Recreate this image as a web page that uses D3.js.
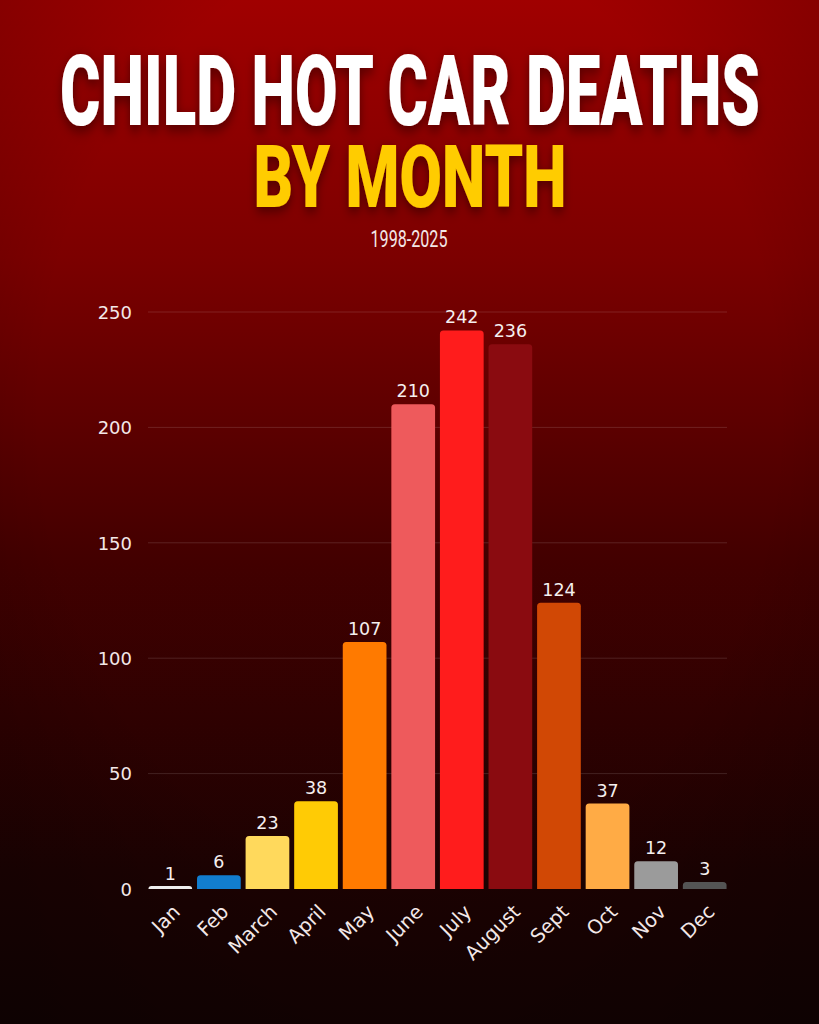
<!DOCTYPE html>
<html><head><meta charset="utf-8">
<script src="https://cdn.jsdelivr.net/npm/d3@7"></script>
<style>
html,body{margin:0;padding:0;background:#000;}
svg{display:block;}
</style></head>
<body>
<svg id="chart" width="819" height="1024"></svg>
<script>
const months = ["Jan","Feb","March","April","May","June","July","August","Sept","Oct","Nov","Dec"];
const deaths = [1,6,23,38,107,210,242,236,124,37,12,3];
const barColors = ["#eeeeee","#127dcf","#ffd95c","#ffcb05","#ff7a00","#ee5a5c","#ff1c1c","#8a0b10","#d14805","#ffab45","#9b9b9b","#545454"];
const yTicks = [0,50,100,150,200,250];
const titleLine1 = "CHILD HOT CAR DEATHS";
const titleLine2 = "BY MONTH";
const subtitle = "1998-2025";

const W = 819, H = 1024;
const svg = d3.select("#chart");
const defs = svg.append("defs");
const bg = defs.append("linearGradient").attr("id","bg").attr("x1",0).attr("y1",0).attr("x2",0).attr("y2",1);
bg.append("stop").attr("offset","0%").attr("stop-color","#a00000");
bg.append("stop").attr("offset","25%").attr("stop-color","#7c0000");
bg.append("stop").attr("offset","55%").attr("stop-color","#420000");
bg.append("stop").attr("offset","85%").attr("stop-color","#1c0202");
bg.append("stop").attr("offset","100%").attr("stop-color","#130202");
const vig = defs.append("radialGradient").attr("id","vig").attr("cx","50%").attr("cy","40%").attr("r","75%");
vig.append("stop").attr("offset","60%").attr("stop-color","#000").attr("stop-opacity",0);
vig.append("stop").attr("offset","100%").attr("stop-color","#000").attr("stop-opacity",0.25);
const sh = defs.append("filter").attr("id","shadow").attr("x","-10%").attr("y","-20%").attr("width","120%").attr("height","150%");
sh.append("feDropShadow").attr("dx",0).attr("dy",3).attr("stdDeviation",4).attr("flood-color","#000").attr("flood-opacity",0.45);

svg.append("rect").attr("width",W).attr("height",H).attr("fill","url(#bg)");
svg.append("rect").attr("width",W).attr("height",H).attr("fill","url(#vig)");

// Titles: condensed look via vertical stretch of a size fitted to the target width
const titleFont = "'Roboto','Liberation Sans',sans-serif";
function fittedTitle(str, cx, baseline, width, capH, weight, color, useShadow){
  const t = svg.append("text").text(str)
    .attr("font-family",titleFont).attr("font-weight",weight).attr("font-size",100)
    .attr("text-anchor","middle").attr("fill",color);
  const w = t.node().getComputedTextLength();
  const fs = 100*width/w;
  const sy = capH/(0.711*fs);
  t.attr("font-size",fs).attr("x",0).attr("y",0)
   .attr("transform",`translate(${cx},${baseline}) scale(1,${sy})`);
  if(useShadow) t.attr("filter","url(#shadow)");
  return t;
}
fittedTitle(titleLine1, 410, 125, 700, 70, 900, "#ffffff", true);
fittedTitle(titleLine2, 410, 207, 313, 62, 900, "#ffcc00", true);
fittedTitle(subtitle, 409, 247, 77, 17, 400, "#f2e6e6", false);

// Scales
const x = d3.scaleBand().domain(months).range([146,729]).paddingInner(0.1).paddingOuter(0.05);
const y = d3.scaleLinear().domain([0,250]).range([889,312]);

const labelFont = "'DejaVu Sans','Open Sans',sans-serif";

// gridlines
svg.append("g").selectAll("line").data(yTicks.filter(d=>d>0)).join("line")
  .attr("x1",148).attr("x2",727).attr("y1",d=>y(d)).attr("y2",d=>y(d))
  .attr("stroke","#ffffff").attr("stroke-opacity",0.13).attr("stroke-width",1);

// y axis
const yAxis = d3.axisLeft(y).tickValues(yTicks).tickSize(0).tickPadding(0);
const yg = svg.append("g").attr("transform","translate(132,0)").call(yAxis);
yg.select(".domain").remove();
yg.selectAll("text").attr("font-family",labelFont).attr("font-size",18).attr("fill","#f3e8e8").attr("dy","0.35em");

// bars with rounded top
function barPath(d,i){
  const x0 = x(months[i]), w = x.bandwidth(), y0 = y(d), yb = y(0);
  const r = Math.min(3.5, (yb-y0)/1, w/2);
  return `M${x0},${yb}V${y0+r}Q${x0},${y0} ${x0+r},${y0}H${x0+w-r}Q${x0+w},${y0} ${x0+w},${y0+r}V${yb}Z`;
}
svg.append("g").selectAll("path").data(deaths).join("path")
  .attr("d",(d,i)=>barPath(Math.max(d,1.3),i))
  .attr("fill",(d,i)=>barColors[i]);

// value labels
svg.append("g").selectAll("text").data(deaths).join("text")
  .attr("x",(d,i)=>x(months[i])+x.bandwidth()/2)
  .attr("y",d=>y(d)-7)
  .attr("text-anchor","middle")
  .attr("font-family",labelFont).attr("font-size",17.5).attr("fill","#f5efef")
  .text(d=>d);

// x axis labels
const xAxis = d3.axisBottom(x).tickSize(0).tickPadding(0);
const xg = svg.append("g").attr("transform","translate(0,889)").call(xAxis);
xg.select(".domain").remove();
xg.selectAll("text")
  .attr("font-family",labelFont).attr("font-size",19.5).attr("fill","#f3e8e8")
  .attr("text-anchor","end").attr("dy",0).attr("y",0)
  .attr("transform","translate(11,24) rotate(-45)");
</script>
</body></html>
